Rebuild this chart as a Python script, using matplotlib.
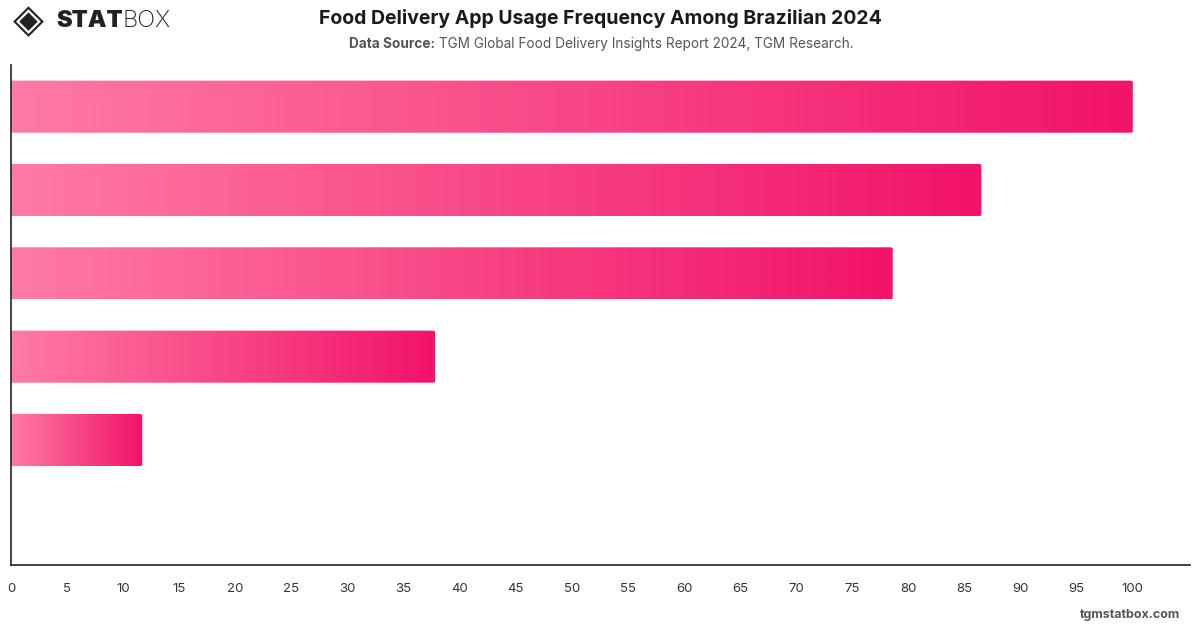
import numpy as np
import matplotlib
matplotlib.use("Agg")
import matplotlib.pyplot as plt
from matplotlib.colors import LinearSegmentedColormap
from matplotlib.patches import FancyBboxPatch

# ---- data ----
categories = ["Category 1", "Category 2", "Category 3", "Category 4", "Category 5", "Category 6"]
values = [100, 86.5, 78.6, 37.8, 11.7, 0]
x_ticks = list(range(0, 101, 5))
title = "Food Delivery App Usage Frequency Among Brazilian 2024"
source_label = "Data Source:"
source_text = " TGM Global Food Delivery Insights Report 2024, TGM Research."

plt.rcParams['font.family'] = ['Inter', 'DejaVu Sans']

W, H = 1200, 628
fig = plt.figure(figsize=(W / 100, H / 100), dpi=100)
ax = fig.add_axes([11 / W, (H - 565) / H, (1190 - 11) / W, (565 - 65) / H])

cmap = LinearSegmentedColormap.from_list("pink", ["#FF7AA4", "#F2136A"])
grad = np.linspace(0, 1, 256).reshape(1, -1)

y = np.arange(len(categories))
bars = ax.barh(y, values, height=0.625, color="none", edgecolor="none")
ax.set_xlim(0, 105.1)
ax.set_ylim(len(categories) - 0.5, -0.5)

for rect in bars.patches:
    w = rect.get_width()
    if w <= 0:
        continue
    x0, y0, h = rect.get_x(), rect.get_y(), rect.get_height()
    clip = FancyBboxPatch((x0 - 1, y0), w + 1, h,
                          boxstyle="round,pad=0,rounding_size=0.25",
                          mutation_aspect=0.06,
                          transform=ax.transData, facecolor="none", edgecolor="none")
    ax.add_patch(clip)
    im = ax.imshow(grad, cmap=cmap, aspect="auto", extent=(x0, x0 + w, y0 + h, y0),
                   interpolation="bicubic", zorder=2)
    im.set_clip_path(clip)

ax.set_xlim(0, 105.1)
ax.set_ylim(len(categories) - 0.5, -0.5)
ax.set_xticks(x_ticks)
ax.set_xticklabels([str(t) for t in x_ticks])
ax.set_yticks([])
ax.tick_params(axis="x", length=0, pad=13, labelsize=9.5, labelcolor="#333333")
for side in ["top", "right"]:
    ax.spines[side].set_visible(False)
for side in ["left", "bottom"]:
    ax.spines[side].set_color("#222222")
    ax.spines[side].set_linewidth(1.2)

# title & subtitle
fig.text(0.5, 1 - 18 / H, title, ha="center", va="center", fontsize=14.0,
         fontweight="bold", color="#1a1a1a")
t1 = fig.text(0.5, 1 - 44 / H, source_label + source_text, ha="center", va="center",
              fontsize=9.8, color="#555555")
fig.canvas.draw()
bb = t1.get_window_extent()
fig.texts.remove(t1)
xs = bb.x0 / W
lab = fig.text(xs, 1 - 44 / H, source_label, ha="left", va="center", fontsize=9.8,
               fontweight="bold", color="#555555")
fig.canvas.draw()
bb2 = lab.get_window_extent()
fig.text(bb2.x1 / W, 1 - 44 / H, source_text, ha="left", va="center", fontsize=9.8,
         color="#555555")

# logo
fig.text(13 / W, 1 - 21 / H, "◈", ha="left", va="center", fontsize=29,
         family="DejaVu Sans", color="#222222")
st = fig.text(56 / W, 1 - 21 / H, "STAT", ha="left", va="center", fontsize=17,
              fontweight="black", color="#222222")
fig.canvas.draw()
bb3 = st.get_window_extent()
fig.text(bb3.x1 / W, 1 - 21 / H, "BOX", ha="left", va="center", fontsize=17,
         fontweight="light", color="#222222")

# footer
fig.text(1180 / W, 1 - 615 / H, "tgmstatbox.com", ha="right", va="center",
         fontsize=9, fontweight="bold", color="#555555")

fig.savefig("out.png", dpi=100)
